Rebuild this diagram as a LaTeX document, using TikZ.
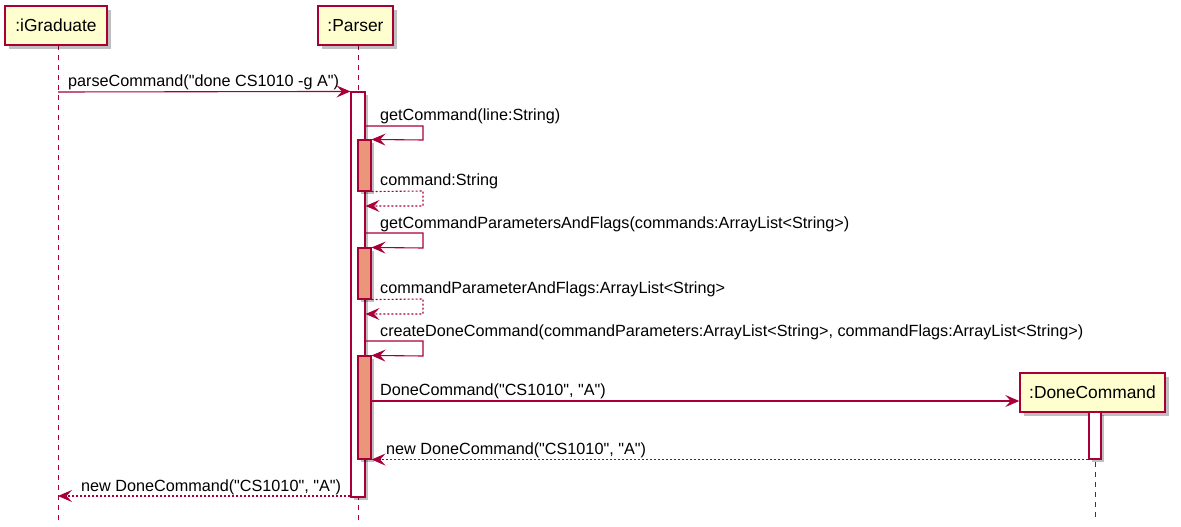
\documentclass[tikz,border=0pt]{standalone}
\usepackage{fontspec}
\setmainfont{Liberation Sans}[Ligatures=TeXOff]
\usetikzlibrary{arrows.meta,shadows}
\definecolor{pu}{HTML}{A80036}
\definecolor{pbox}{HTML}{FEFECE}
\definecolor{actc}{HTML}{E9967A}
\begin{document}
\begin{tikzpicture}[x=1pt,y=-1pt,
  participant/.style={draw=pu, fill=pbox, line width=1.4pt, inner sep=0pt,
    minimum height=39pt, font=\fontsize{17.4}{20}\selectfont,
    drop shadow={shadow xshift=4pt, shadow yshift=-4pt, fill=black, opacity=0.25}},
  actbar/.style={draw=pu, fill=white, line width=1.1pt, inner sep=0pt,
    drop shadow={shadow xshift=3pt, shadow yshift=-3pt, fill=black, opacity=0.25}},
  subbar/.style={actbar, fill=actc},
  lifeline/.style={draw=pu, line width=1pt, dash pattern=on 5pt off 5pt},
  msg/.style={draw=pu, line width=1.1pt, -{Stealth[length=14pt,width=12pt,inset=5.5pt]}},
  ret/.style={msg, dash pattern=on 2pt off 2pt},
  lbl/.style={anchor=base west, inner sep=0pt, font=\fontsize{16.2}{19}\selectfont}
]
\useasboundingbox (0,0) rectangle (1181,527);

% lifeline ends
\coordinate (igtop) at (58,45);
\coordinate (igbot) at (58,520);
\coordinate (pstop) at (358,45);
\coordinate (psbot) at (358,520);
\coordinate (dctop) at (1095,412);
\coordinate (dcbot) at (1095,520);

\draw[lifeline] (igtop) -- (igbot);
\draw[lifeline] (pstop) -- (psbot);
\draw[lifeline] (dctop) -- (dcbot);

% participants
\node[participant, minimum width=102pt] (ig) at (56,25.5) {:iGraduate};
\node[participant, minimum width=75pt] (ps) at (355.5,25.5) {:Parser};

% activations
\node[actbar, minimum width=14pt, minimum height=405pt] (a0) at (358,294.5) {};
\node[subbar, minimum width=13pt, minimum height=51pt] (a1) at (364.5,165.5) {};
\node[subbar, minimum width=13pt, minimum height=51pt] (a2) at (364.5,273.5) {};
\node[subbar, minimum width=13pt, minimum height=103pt] (a3) at (364.5,407.5) {};

\node[participant, minimum width=145pt] (dc) at (1092.5,392.5) {:DoneCommand};
\node[actbar, minimum width=12pt, minimum height=47pt] (d1) at (1095,435.5) {};

% loop corners
\coordinate (l1a) at (423,126);
\coordinate (l1b) at (423,140);
\coordinate (l2a) at (423,191);
\coordinate (l2b) at (423,206);
\coordinate (l3a) at (423,233);
\coordinate (l3b) at (423,248);
\coordinate (l4a) at (423,299);
\coordinate (l4b) at (423,314);
\coordinate (l5a) at (423,341);
\coordinate (l5b) at (423,356);
\coordinate (m7) at (700,401);

% messages
\draw[msg] (igtop |- 0,92) -- (a0.north west);
\node[lbl] (t1) at (68,87) {parseCommand("done CS1010 -g A")};

\draw[msg] (a0.east |- l1a) -- (l1a) -- (l1b) -- (a1.north east);
\node[lbl] (t2) at (380,121) {getCommand(line:String)};

\draw[ret] (a1.south east) -- (l2a) -- (l2b) -- (a0.east |- l2b);
\node[lbl] (t3) at (380,185) {command:String};

\draw[msg] (a0.east |- l3a) -- (l3a) -- (l3b) -- (a2.north east);
\node[lbl] (t4) at (380,228) {getCommandParametersAndFlags(commands:ArrayList<String>)};

\draw[ret] (a2.south east) -- (l4a) -- (l4b) -- (a0.east |- l4b);
\node[lbl] (t5) at (380,293) {commandParameterAndFlags:ArrayList<String>};

\draw[msg] (a0.east |- l5a) -- (l5a) -- (l5b) -- (a3.north east);
\node[lbl] (t6) at (380,336) {createDoneCommand(commandParameters:ArrayList<String>, commandFlags:ArrayList<String>)};

\draw[msg] (a3.east |- m7) -- (dc.west |- m7);
\node[lbl] (t7) at (380,395) {DoneCommand("CS1010", "A")};

\draw[ret] (d1.south west) -- (a3.south east);
\node[lbl] (t8) at (386,454) {new DoneCommand("CS1010", "A")};

\draw[ret] (a0.south west |- 0,496) -- (igtop |- 0,496);
\node[lbl] (t9) at (81,491) {new DoneCommand("CS1010", "A")};
\end{tikzpicture}
\end{document}
